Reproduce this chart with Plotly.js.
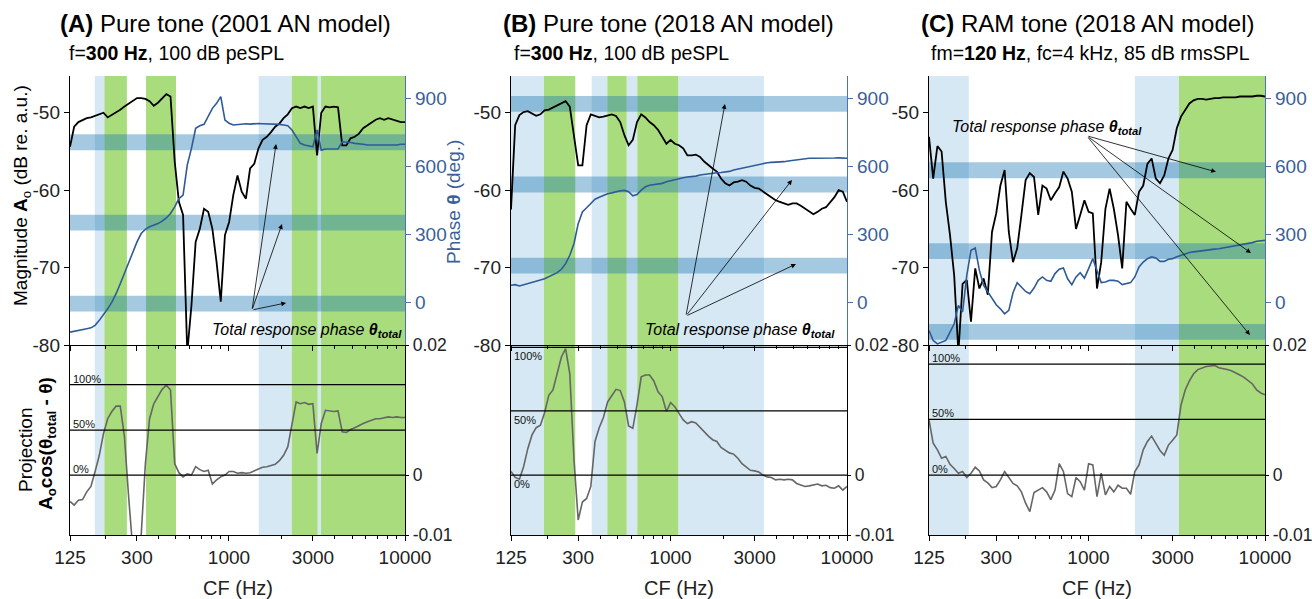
<!DOCTYPE html>
<html><head><meta charset="utf-8">
<script src="https://cdn.plot.ly/plotly-3.0.1.min.js"></script>
<style>html,body{margin:0;padding:0;background:#fff}#g{width:1312px;height:599px}</style>
</head><body><div id="g"></div>
<script>
// ---------- data ----------
const CF = [125,132.0,139.5,147.3,155.6,164.4,173.6,183.4,193.7,204.6,216.1,228.4,241.2,254.8,269.1,284.3,300.3,317.2,335.1,353.9,
373.9,394.9,417.2,440.7,465.5,491.7,519.4,548.6,579.5,612.1,646.6,683.0,721.4,762.1,805.0,850.3,898.2,948.8,1002.2,1058.6,
1118,1181,1248,1318,1392,1471,1553,1641,1733,1831,1934,2043,2158,2279,2408,2543,2686,2838,2997,3166,
3344,3533,3731,3942,4164,4398,4646,4907,5184,5476,5784,6110,6454,6817,7201,7607,8035,8488,8966,9471,10000];

const A_mag = [-54.4,-51.8,-51.2,-50.9,-50.7,-50.6,-50.4,-50.1,-50.0,-50.6,
-50.3,-49.9,-49.6,-49.2,-48.8,-48.4,-48.1,-48.1,-48.2,-48.5,
-49.1,-48.7,-48.2,-47.6,-47.9,-56.3,-61.5,-63.2,-81,-74.9,
-66.7,-65.0,-62.4,-62.8,-65.0,-69.3,-74.4,-65.8,-64.1,-60.6,
-58.1,-60.2,-61.1,-57.2,-56.6,-54.6,-53.5,-53.1,-52.5,-51.8,
-51.4,-50.7,-50.2,-49.4,-49.2,-49.4,-49.2,-49.4,-49.2,-55.5,
-50.0,-49.2,-49.3,-49.2,-49.3,-54.2,-54.2,-53.3,-53.1,-52.7,
-52.0,-51.6,-51.2,-50.9,-50.7,-50.9,-50.7,-50.9,-51.1,-51.2,-51.2];
const A_phase = [-133,-130,-126,-121,-118,-114,-103,-81,-56,-30,
0,37,81,126,177,222,266,303,322,333,
340,347,358,372,392,421,458,473,606,680,
769,780,786,820,857,879,909,805,791,783,
786,786,789,787,789,790,789,789,789,789,
786,783,780,761,732,702,695,690,687,761,
672,677,677,677,677,709,709,706,702,701,
698,695,695,692,695,695,695,695,695,698,698];
const A_proj = [-0.0044,-0.0050,-0.0042,-0.0041,-0.0028,-0.0019,0.0006,0.0033,0.0069,0.0094,
0.0106,0.0115,0.0115,0.0064,-0.0036,-0.0125,-0.0125,-0.0100,0.0019,0.0094,
0.0119,0.0131,0.0143,0.0150,0.0142,0.0019,0.0004,-0.0003,0.0002,0.0000,
0.0014,0.0009,0.0006,0.0008,-0.0015,-0.0008,-0.0003,0.0000,0.0006,0.0006,
0.0003,0.0004,0.0003,0.0004,0.0007,0.0009,0.0013,0.0014,0.0016,0.0018,
0.0024,0.0033,0.0047,0.0086,0.0122,0.0119,0.0121,0.0118,0.0119,0.0036,
0.0086,0.0108,0.0107,0.0106,0.0107,0.0072,0.0071,0.0076,0.0079,0.0083,
0.0086,0.0089,0.0092,0.0094,0.0094,0.0096,0.0097,0.0096,0.0097,0.0096,0.0096];

const B_mag = [-62.5,-51.6,-50.3,-49.9,-49.8,-50.1,-50.4,-50.2,-49.7,-49.6,
-49.3,-49.0,-48.8,-48.5,-49.2,-53.3,-56.8,-56.8,-51.6,-50.2,
-50.4,-50.6,-50.5,-50.3,-50.2,-50.4,-51.2,-52.9,-54.2,-53.5,
-51.2,-50.2,-50.6,-51.2,-51.6,-52.2,-53.1,-54.0,-53.5,-54.0,
-54.2,-54.6,-55.5,-55.5,-55.4,-55.7,-56.3,-56.8,-57.2,-57.6,
-58.5,-59.1,-59.4,-59.0,-58.9,-58.7,-58.9,-59.4,-59.7,-59.8,
-60.2,-60.6,-61.0,-61.3,-61.5,-61.7,-61.9,-61.7,-61.7,-62.0,
-62.4,-62.8,-63.1,-62.8,-62.4,-62.2,-61.5,-60.9,-60.0,-60.2,-61.5];
const B_phase = [74,77,71,77,81,89,92,98,103,111,
121,130,145,170,207,259,347,399,417,436,
455,464,473,479,483,488,492,494,488,470,
476,495,510,517,520,523,525,532,537,542,
547,550,553,554,557,562,565,568,569,572,
573,575,578,584,588,594,597,603,606,609,
613,616,618,618,618,621,624,627,628,630,
633,636,636,636,634,636,636,637,638,636,636];
const B_proj = [0.0006,-0.0004,-0.0007,0.0014,0.0044,0.0067,0.0079,0.0083,0.0104,0.0133,
0.0142,0.0172,0.0197,0.0211,0.0169,0.0025,-0.0075,-0.0045,-0.0039,-0.0019,
0.0056,0.0079,0.0096,0.0122,0.0133,0.0143,0.0141,0.0122,0.0082,0.0078,
0.0117,0.0164,0.0167,0.0167,0.0157,0.0139,0.0131,0.0106,0.0121,0.0114,
0.0103,0.0092,0.0086,0.0089,0.0087,0.0079,0.0072,0.0065,0.0059,0.0056,
0.0046,0.0041,0.0037,0.0035,0.0028,0.0019,0.0013,0.0008,0.0007,0.0005,
0.0000,-0.0003,-0.0004,-0.0008,-0.0007,-0.0008,-0.0007,-0.0008,-0.0014,-0.0017,
-0.0019,-0.0018,-0.0017,-0.0015,-0.0018,-0.0017,-0.0021,-0.0022,-0.0018,-0.0025,-0.0019];

const C_mag = [-53.1,-58.5,-54.3,-55.0,-61.5,-65.8,-71.0,-81,-72.1,-71.6,
-77.0,-70.1,-72.7,-71.4,-73.5,-65.4,-63.0,-59.4,-57.4,-65.4,
-69.3,-67.5,-63.2,-58.7,-57.8,-58.3,-63.2,-59.4,-59.8,-61.3,
-60.4,-59.6,-57.6,-58.5,-60.2,-65.0,-63.2,-61.3,-62.8,-63.0,
-72.7,-69.3,-62.4,-59.8,-62.4,-65.8,-70.1,-61.5,-62.4,-63.2,
-60.2,-59.4,-56.6,-55.9,-58.5,-59.1,-58.1,-55.9,-54.8,-52.0,
-50.5,-49.7,-48.8,-48.4,-48.2,-48.2,-48.3,-48.2,-48.1,-48.1,
-48.0,-48.0,-48.0,-48.0,-47.9,-47.9,-47.9,-47.9,-47.8,-47.8,-47.9];
const C_phase = [-126,-170,-185,-177,-170,-133,-96,-15,-44,118,
229,239,140,74,44,18,-12,-30,-52,-37,
41,86,67,47,37,62,96,111,96,92,
126,145,151,103,77,111,130,106,148,192,
140,86,89,96,96,92,77,81,86,111,
155,177,192,200,195,180,180,189,192,200,
207,214,219,222,225,226,229,231,234,236,
239,242,245,248,251,256,260,263,269,272,273];
const C_proj = [0.0092,0.0053,0.0042,0.0028,0.0031,0.0018,0.0011,0.0003,0.0006,-0.0004,
0.0003,0.0013,0.0007,-0.0008,-0.0013,-0.0021,-0.0019,-0.0008,0.0006,-0.0004,
-0.0014,-0.0018,-0.0028,-0.0047,-0.0061,-0.0029,-0.0025,-0.0021,-0.0028,-0.0041,
-0.0025,0.0019,0.0006,-0.0031,-0.0036,-0.0004,-0.0011,-0.0025,0.0019,0.0017,
-0.0036,0.0003,-0.0033,-0.0019,-0.0028,-0.0017,-0.0022,-0.0022,-0.0032,0.0006,
0.0017,0.0042,0.0056,0.0065,0.0053,0.0041,0.0033,0.0050,0.0058,0.0067,
0.0117,0.0142,0.0157,0.0169,0.0176,0.0179,0.0181,0.0182,0.0183,0.0179,
0.0178,0.0176,0.0174,0.0171,0.0167,0.0163,0.0158,0.0152,0.0142,0.0137,0.0134];

// projection reference levels [0%, 50%, 100%]
const A_levels = [0, 0.0075, 0.0151];
const B_levels = [0, 0.0107, 0.0213];
const C_levels = [0, 0.0093, 0.0185];
const levelLabels = ['0%', '50%', '100%'];

// total response phase bands (deg)
const A_theta = [707, 351, -7];
const B_theta = [877, 520, 161];
const C_theta = [583, 225, -132];

// shaded CF regions [start, end]
const A_blue = [[173,196],[1475,2274],[3191,3335]];
const A_green = [[196,263],[338,500],[2274,3191],[3335,10000]];
const B_blue = [[125,192],[358,439],[565,649],[1107,3386]];
const B_green = [[192,289],[439,565],[649,1107]];
const C_blue = [[125,210],[1834,3256]];
const C_green = [[3256,10000]];

const titles = ['<b>(A)</b> Pure tone (2001 AN model)', '<b>(B)</b> Pure tone (2018 AN model)', '<b>(C)</b> RAM tone (2018 AN model)'];
const subtitles = ['f=<b>300 Hz</b>, 100 dB peSPL', 'f=<b>300 Hz</b>, 100 dB peSPL', 'fm=<b>120 Hz</b>, fc=4 kHz, 85 dB rmsSPL'];
const xTickVals = [125, 300, 1000, 3000, 10000];
const xTickText = ['125', '300', '1000', '3000', '10000'];
const xMinorVals = [200,400,500,600,700,800,900,2000,4000,5000,6000,7000,8000,9000];
const magTicks = [-80, -70, -60, -50];
const magTickText = ['-80', '-70', '-60', '-50'];
const phaseTicks = [0, 300, 600, 900];
const projTicks = [-0.01, 0, 0.0217];
const projTickText = ['-0.01', '0', '0.02'];

// ---------- layout helpers ----------
const W = 1312, H = 599;
const FONT = 'Liberation Sans, Arial, sans-serif';
const px = v => v / W, py = v => 1 - v / H;
const colX = [[70, 405], [511, 847], [929, 1265]];
const topDom = [py(345), py(76)];
const botDom = [py(535), py(345)];
const BLUE_LINE = '#2e5b98', BLUE_AX = '#4d73a8', BLUE_TXT = '#3b5f97';
const GREEN = 'rgb(168,220,124)', LBLUE = 'rgb(214,232,243)', BAND = 'rgba(31,119,180,0.4)';

const panels = [
  {mag: A_mag, phase: A_phase, proj: A_proj, levels: A_levels, theta: A_theta, blue: A_blue, green: A_green, below: false},
  {mag: B_mag, phase: B_phase, proj: B_proj, levels: B_levels, theta: B_theta, blue: B_blue, green: B_green, below: true},
  {mag: C_mag, phase: C_phase, proj: C_proj, levels: C_levels, theta: C_theta, blue: C_blue, green: C_green, below: false}
];

// arrow annotations (tip CF, tip phase, pixel offset of tail)
const arrowSets = [
  {text: [210, 330], tips: [[1851, 699, -24, 166], [2001, 345, -30, 86], [2110, -4, -34, 7]]},
  {text: [643, 330], tips: [[2035, 876, -39, 212], [4876, 540, -106, 136], [5139, 168, -110, 52]]},
  {text: [950, 127], tips: [[5275, 576, -129, -36], [8322, 217, -164, -117], [8215, -146, -163, -199]]}
];

const traces = [];
const layout = {
  width: W, height: H, margin: {l: 0, r: 0, t: 0, b: 0},
  paper_bgcolor: 'white', plot_bgcolor: 'rgba(0,0,0,0)',
  showlegend: false, font: {family: FONT, color: '#222'},
  shapes: [], annotations: []
};
const regionShapes = [], bandShapes = [], lineShapes = [];

panels.forEach((p, i) => {
  const xt = 2 * i + 1, xb = 2 * i + 2;
  const ym = 3 * i + 1, yp = 3 * i + 2, yj = 3 * i + 3;
  const id = n => (n === 1 ? '' : n);
  const dom = [px(colX[i][0]), px(colX[i][1])];
  const xcommon = {
    domain: dom, type: 'log', range: [Math.log10(125), 4],
    showline: true, linecolor: 'black', linewidth: 1.2,
    ticks: 'outside', ticklen: 5, tickcolor: 'black', tickvals: xTickVals, ticktext: xTickText,
    minor: {tickvals: xMinorVals, ticks: 'outside', ticklen: 3, tickcolor: 'black'},
    showgrid: false, zeroline: false, fixedrange: true
  };
  layout['xaxis' + id(xt)] = Object.assign({}, xcommon, {anchor: 'y' + id(ym), showticklabels: false});
  layout['xaxis' + id(xb)] = Object.assign({}, xcommon, {anchor: 'y' + id(yj), showticklabels: true,
    tickfont: {size: 19, color: '#222'}});
  layout['yaxis' + id(ym)] = {domain: topDom, anchor: 'x' + id(xt), range: [-80, -45.25],
    tickvals: magTicks, ticktext: magTickText, ticks: 'outside', ticklen: 5, tickcolor: 'black',
    showline: true, linecolor: 'black', linewidth: 1.2, showgrid: false, zeroline: false,
    tickfont: {size: 19, color: '#222'}};
  layout['yaxis' + id(yp)] = {overlaying: 'y' + id(ym), side: 'right', anchor: 'x' + id(xt), range: [-190, 1000],
    tickvals: phaseTicks, ticks: 'outside', ticklen: 5, tickcolor: BLUE_AX,
    showline: true, linecolor: BLUE_AX, linewidth: 1.2, showgrid: false, zeroline: false,
    tickfont: {size: 19, color: BLUE_TXT}};
  layout['yaxis' + id(yj)] = {domain: botDom, anchor: 'x' + id(xb), side: 'right', range: [-0.01, 0.0217],
    tickvals: projTicks, ticktext: projTickText, ticks: 'outside', ticklen: 3, tickcolor: 'black',
    showline: true, mirror: true, linecolor: 'black', linewidth: 1.2, showgrid: false, zeroline: false,
    tickfont: {size: 17.5, color: '#222'}};

  p.blue.forEach(r => regionShapes.push({type: 'rect', xref: 'x' + id(xt), yref: 'paper', x0: r[0], x1: r[1],
    y0: botDom[0], y1: topDom[1], fillcolor: LBLUE, line: {width: 0}, layer: 'below'}));
  p.green.forEach(r => regionShapes.push({type: 'rect', xref: 'x' + id(xt), yref: 'paper', x0: r[0], x1: r[1],
    y0: botDom[0], y1: topDom[1], fillcolor: GREEN, line: {width: 0}, layer: 'below'}));
  p.theta.forEach(t => bandShapes.push({type: 'rect', xref: 'x' + id(xt) + ' domain', yref: 'y' + id(yp),
    x0: 0, x1: 1, y0: t - 35, y1: t + 35, fillcolor: BAND, line: {width: 0}, layer: 'below'}));
  p.levels.forEach((v, k) => {
    lineShapes.push({type: 'line', xref: 'x' + id(xb) + ' domain', yref: 'y' + id(yj), x0: 0, x1: 1, y0: v, y1: v,
      line: {color: 'black', width: 1.2}, layer: 'above'});
    layout.annotations.push({xref: 'x' + id(xb) + ' domain', yref: 'y' + id(yj), x: 0.002, y: v,
      xanchor: 'left', yanchor: p.below ? 'top' : 'bottom', text: levelLabels[k], showarrow: false,
      font: {size: 11, color: '#111'}, yshift: p.below ? -1 : -2});
  });

  traces.push({x: CF, y: p.proj, xaxis: 'x' + id(xb), yaxis: 'y' + id(yj), type: 'scatter', mode: 'lines',
    line: {color: '#666', width: 1.6}, hoverinfo: 'skip'});
  traces.push({x: CF, y: p.mag, xaxis: 'x' + id(xt), yaxis: 'y' + id(ym), type: 'scatter', mode: 'lines',
    line: {color: 'black', width: 1.8}, hoverinfo: 'skip'});
  traces.push({x: CF, y: p.phase, xaxis: 'x' + id(xt), yaxis: 'y' + id(yp), type: 'scatter', mode: 'lines',
    line: {color: BLUE_LINE, width: 1.6}, hoverinfo: 'skip'});

  const as = arrowSets[i];
  as.tips.forEach(t => layout.annotations.push({xref: 'x' + id(xt), yref: 'y' + id(yp),
    x: Math.log10(t[0]), y: t[1], ax: t[2], ay: t[3], text: '', showarrow: true,
    arrowhead: 2, arrowsize: 1.2, arrowwidth: 0.8, arrowcolor: 'black', standoff: 0, startstandoff: 0}));
  layout.annotations.push({xref: 'paper', yref: 'paper', x: px(as.text[0]), y: py(as.text[1]),
    xanchor: 'left', yanchor: 'middle', showarrow: false,
    text: '<i>Total response phase <b>θ</b><sub><b>total</b></sub></i>', font: {size: 16, color: 'black'}});

  layout.annotations.push({xref: 'paper', yref: 'paper', x: px((colX[i][0] + colX[i][1]) / 2), y: py(588),
    xanchor: 'center', yanchor: 'middle', showarrow: false, text: 'CF (Hz)', font: {size: 20, color: '#222'}});
});
layout.shapes = regionShapes.concat(bandShapes).concat(lineShapes);

const titleCx = [226, 668, 1087];
const subLeft = [67, 512, 929];
for (let i = 0; i < 3; i++) {
  layout.annotations.push({xref: 'paper', yref: 'paper', x: px(titleCx[i]), y: py(24), xanchor: 'center', yanchor: 'middle',
    showarrow: false, text: titles[i], font: {size: 24, color: 'black'}});
  layout.annotations.push({xref: 'paper', yref: 'paper', x: px(subLeft[i]), y: py(53), xanchor: 'left', yanchor: 'middle',
    showarrow: false, text: subtitles[i], font: {size: 19.5, color: 'black'}});
}
layout.annotations.push({xref: 'paper', yref: 'paper', x: px(22), y: py(196), textangle: -90, showarrow: false,
  xanchor: 'center', yanchor: 'middle', text: 'Magnitude <b>A</b><sub>o</sub> (dB re. a.u.)', font: {size: 19, color: 'black'}});
layout.annotations.push({xref: 'paper', yref: 'paper', x: px(453), y: py(202), textangle: -90, showarrow: false,
  xanchor: 'center', yanchor: 'middle', text: 'Phase <b>θ</b> (deg.)', font: {size: 19, color: BLUE_TXT}});
layout.annotations.push({xref: 'paper', yref: 'paper', x: px(25), y: py(450), textangle: -90, showarrow: false,
  xanchor: 'center', yanchor: 'middle', text: 'Projection', font: {size: 19, color: 'black'}});
layout.annotations.push({xref: 'paper', yref: 'paper', x: px(47), y: py(443), textangle: -90, showarrow: false,
  xanchor: 'center', yanchor: 'middle', text: '<b>A</b><sub><b>o</b></sub><b>cos(θ</b><sub><b>total</b></sub><b> - θ)</b>',
  font: {size: 19, color: 'black'}});

Plotly.newPlot('g', traces, layout, {staticPlot: true, displayModeBar: false});
</script>
</body></html>
